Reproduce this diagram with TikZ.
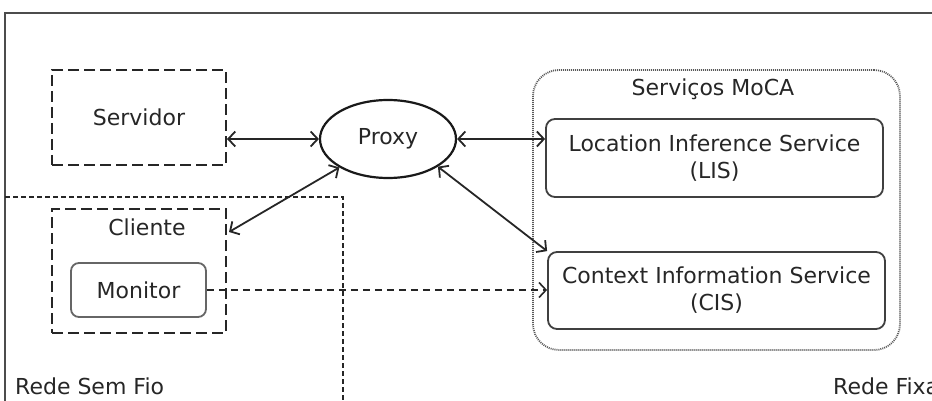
\documentclass[tikz,border=0pt]{standalone}
\usepackage{fontspec}
\setmainfont{DejaVu Sans}
\usetikzlibrary{arrows.meta,shapes.geometric}
\begin{document}
\begin{tikzpicture}[x=1pt,y=-1pt,
  every node/.style={font=\fontsize{22}{27}\selectfont, text=black!85},
  dashbox/.style={draw=black!85, line width=2pt, dash pattern=on 11pt off 5pt, minimum width=#1},
  svcbox/.style={draw=black!75, line width=1.8pt, rounded corners=9pt, align=center, inner sep=0pt},
  link/.style={line width=1.8pt, draw=black!85, {Straight Barb[length=7pt,width=15pt]}-{Straight Barb[length=7pt,width=15pt]}},
  flow/.style={line width=1.6pt, draw=black!85, dash pattern=on 7pt off 5pt, -{Straight Barb[length=7pt,width=15pt]}},
  lbl/.style={inner sep=0pt}]
\useasboundingbox (0,0) rectangle (932,401);
\clip (0,0) rectangle (932,401);

% outer frame of the whole system
\draw[line width=2.4pt, draw=black!70] (5,420) -- (5,13) -- (950,13);

% wireless network region
\draw[line width=1.6pt, draw=black!85, dash pattern=on 5pt off 3pt] (5,197) -- (343,197) -- (343,420);

% MoCA services group
\node[draw=black!65, line width=1.8pt, dash pattern=on 1pt off 1pt, rounded corners=26pt,
      minimum width=367pt, minimum height=280pt] (moca) at (716.5,210) {};
\node[lbl] (mocalbl) at (713,89) {Serviços MoCA};

% services
\node[svcbox, minimum width=337pt, minimum height=78pt] (lis) at (714.5,158)
  {Location Inference Service\\(LIS)};
\node[svcbox, minimum width=337pt, minimum height=77pt] (cis) at (716.5,290.5)
  {Context Information Service\\(CIS)};

% server, client and monitor
\node[dashbox=174pt, minimum height=95pt] (serv) at (139,117.5) {Servidor};
\node[dashbox=174pt, minimum height=124pt] (cli) at (139,271) {};
\node[lbl] (clilbl) at (147,227) {Cliente};
\node[draw=black!60, line width=1.8pt, rounded corners=8pt, minimum width=135pt,
      minimum height=54pt] (mon) at (138.5,290) {Monitor};

% proxy
\node[ellipse, draw=black!90, line width=2.2pt, minimum width=136pt, minimum height=78pt,
      inner sep=0pt] (proxy) at (388,139) {Proxy};

% connectors
\draw[link] (proxy.west -| serv.east) -- (proxy.west);
\draw[link] (proxy.east) -- (proxy.east -| lis.west);
\coordinate (clitip) at ([yshift=-24pt]cli.north east);
\draw[link] (proxy) -- ([xshift=2pt]clitip);
\draw[link] (proxy.-29) -- (cis.north west);
\draw[flow] (mon.east) -- (mon.east -| cis.west);

% network labels
\node[lbl, anchor=west] (wless) at (15,386) {Rede Sem Fio};
\node[lbl, anchor=west] (wired) at (833,386) {Rede Fixa};
\end{tikzpicture}
\end{document}
